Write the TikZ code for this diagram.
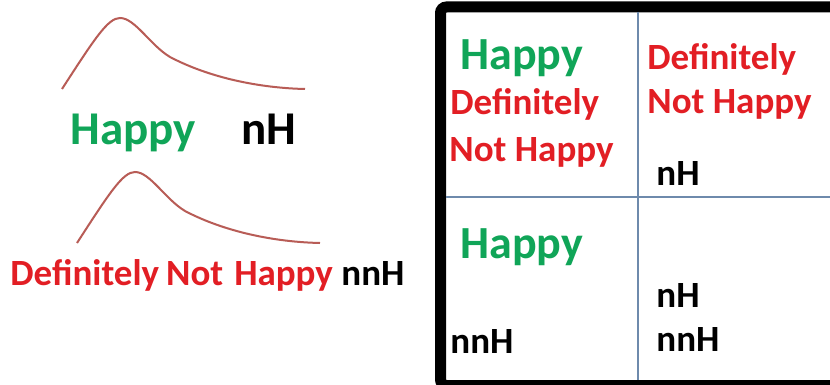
\documentclass[tikz,border=0pt]{standalone}
\usepackage{fontspec}
\setmainfont{Carlito}
\usepackage{tikz}
\usetikzlibrary{positioning}

\definecolor{happygreen}{RGB}{16,165,88}
\definecolor{sadred}{RGB}{226,30,36}
\definecolor{curvebrown}{RGB}{184,92,86}
\definecolor{gridblue}{RGB}{110,138,172}

\tikzset{
  lbl/.style={inner sep=0pt, anchor=base west, font=\bfseries\fontsize{18.5}{21}\selectfont},
  biglbl/.style={lbl, font=\bfseries\fontsize{23.5}{27}\selectfont},
  midlbl/.style={lbl, font=\bfseries\fontsize{23}{26}\selectfont},
  curve/.style={draw=curvebrown, line width=1pt},
  gridline/.style={draw=gridblue, line width=0.7pt}
}

\begin{document}
\begin{tikzpicture}[x=0.5pt, y=-0.5pt]
        \useasboundingbox (0,0) rectangle (830,385);
        \fill[white] (0,0) rectangle (830,385);

        % two curves
        \draw[curve] (62,89) .. controls (95,38) and (108,18) .. (120,18)
            .. controls (135,18) and (150,45) .. (170,57)
            .. controls (210,78) and (260,88) .. (305,89);
        \draw[curve, shift={(15,154)}] (62,89) .. controls (95,38) and (108,18) .. (120,18)
            .. controls (135,18) and (150,45) .. (170,57)
            .. controls (210,78) and (260,88) .. (305,89);

        \node[biglbl, text=happygreen] (lhappy) at (70,145) {Happy};
        \node[biglbl] (lnh) at (241,145) {nH};
        \node[lbl, text=sadred] (lsad) at (10,285) {Definitely\hspace{3.5pt}Not\hspace{5.5pt}Happy};
        \node[lbl] (lnnh) at (341,285) {nnH};

        % table
        \coordinate (tl) at (440.5,7);
        \coordinate (bl) at (440.5,385.5);
        \draw[line width=5.5pt, rounded corners=3pt] (850,7) -- (tl) -- (bl) -- (850,385.5);
        \draw[gridline] (638,12) -- (638,380);
        \draw[gridline] (446,197) -- (830,197);

        \node[midlbl, text=happygreen] (tlhappy) at (460,70) {Happy};
        \node[lbl, text=sadred] (tldef) at (450,115) {Definitely};
        \node[lbl, text=sadred] (tlnot) at (449,162) {Not Happy};

        \node[lbl, text=sadred] (trdef) at (647,70) {Definitely};
        \node[lbl, text=sadred] (trnot) at (647,113) {Not Happy};
        \node[lbl] (trnh) at (656,185) {nH};

        \node[midlbl, text=happygreen] (blhappy) at (460,258) {Happy};
        \node[lbl] (blnnh) at (450,353) {nnH};

        \node[lbl] (brnh) at (656,307) {nH};
        \node[lbl] (brnnh) at (656,351) {nnH};
    \end{tikzpicture}
\end{document}
